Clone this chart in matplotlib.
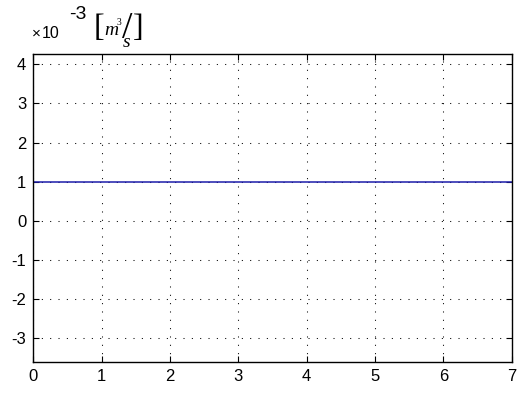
#!/usr/bin/env python3
import matplotlib
matplotlib.use('Agg')
import matplotlib.pyplot as plt
from matplotlib.ticker import FuncFormatter

#==================================================================
t = [0, 7]
q = [1e-3, 1e-3]
xticks = [0, 1, 2, 3, 4, 5, 6, 7]
yticks = [-3e-3, -2e-3, -1e-3, 0, 1e-3, 2e-3, 3e-3, 4e-3]

#==================================================================
def px(x, y):
    # pixel position in the 520x396 picture -> figure fraction
    return x / 520.0, 1 - y / 396.0

#==================================================================
def real_main():
    plt.rcParams['font.family'] = ['Liberation Sans', 'DejaVu Sans']
    fig = plt.figure(figsize=(5.2, 3.96), dpi=100)
    ax = fig.add_axes([0.064, 0.085, 0.92, 0.778])
    ax.plot(t, q, color='#1c1caa', lw=1.1)
    ax.set_xlim(0, 7)
    ax.set_ylim(-3.63e-3, 4.26e-3)
    ax.set_xticks(xticks)
    ax.set_yticks(yticks)
    ax.yaxis.set_major_formatter(FuncFormatter(lambda v, p: '%g' % round(v * 1e3)))
    ax.grid(True, color='black', linestyle=(0, (1, 7)), linewidth=0.75)
    ax.tick_params(direction='in', length=4, width=0.8, top=True, right=True,
                   labelsize=12, pad=5)
    for s in ax.spines.values():
        s.set_linewidth(1.0)

    # exponent
    fig.text(*px(32, 38), '\u00d7', fontsize=11, ha='left', va='baseline')
    fig.text(*px(42, 38), '10', fontsize=11.5, ha='left', va='baseline')
    fig.text(*px(69, 19), '-3', fontsize=14, ha='left', va='baseline')
    # unit [m^3/s]
    serif = dict(family=['Liberation Serif', 'DejaVu Serif'])
    fig.text(*px(99, 29), '[', fontsize=23, ha='center', va='center', **serif)
    fig.text(*px(104, 35), 'm', fontsize=14, style='italic', ha='left', va='baseline', **serif)
    fig.text(*px(117, 25), '3', fontsize=7, ha='left', va='baseline', **serif)
    fig.text(*px(127, 29), '/', fontsize=27, ha='center', va='center', **serif)
    fig.text(*px(123, 47), 's', fontsize=14, style='italic', ha='left', va='baseline', **serif)
    fig.text(*px(138, 29), ']', fontsize=23, ha='center', va='center', **serif)
    fig.savefig('out.png', dpi=100)


#==================================================================
if __name__ == "__main__":
    real_main()
